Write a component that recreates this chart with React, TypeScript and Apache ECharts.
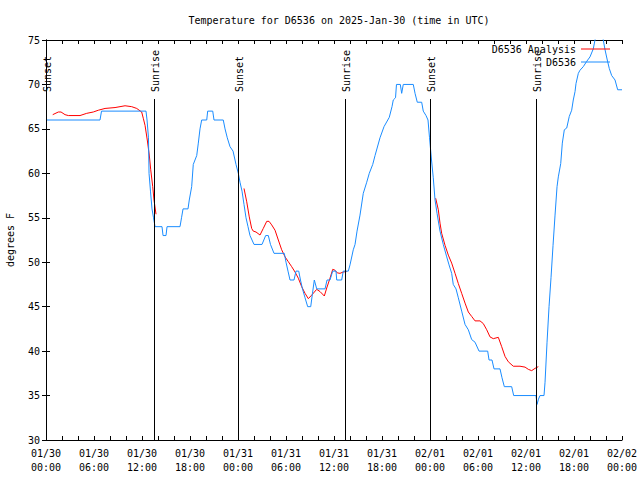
import React, { useEffect, useRef } from "react";
import * as echarts from "echarts";

// Hours since 2025-01-30 00:00 UTC, temperature in degrees F
const obsD6536: [number, number][] = [
  [0, 66], [6.75, 66], [6.94, 67], [12.5, 67], [12.63, 66], [12.81, 64], [12.88, 60],
  [13.06, 58], [13.25, 56], [13.44, 55], [13.63, 54], [14.5, 54], [14.63, 53], [15.0, 53],
  [15.13, 54], [16.75, 54], [16.94, 55], [17.13, 56], [17.75, 56], [17.91, 57], [18.21, 58.5],
  [18.41, 61], [18.84, 62], [19.04, 63.4], [19.25, 65], [19.46, 66], [20.09, 66], [20.21, 67],
  [20.84, 67], [21.0, 66], [22.16, 66], [22.38, 65], [22.66, 64], [23.0, 63], [23.38, 62.5],
  [23.75, 61], [24.04, 60], [24.25, 59], [24.5, 58], [24.75, 56.5], [25.0, 55], [25.25, 54],
  [25.5, 53], [26.0, 52], [27.0, 52], [27.46, 53], [27.79, 53], [28.06, 52], [28.5, 51],
  [29.79, 51], [30.0, 50], [30.25, 49], [30.5, 48], [31.0, 48], [31.25, 49], [31.59, 49],
  [31.81, 48], [32.06, 47], [32.38, 46], [32.71, 45], [33.09, 45], [33.31, 46.5], [33.54, 48],
  [33.84, 47], [34.88, 47], [35.13, 48], [35.5, 48], [35.84, 49], [36.25, 49], [36.34, 48],
  [36.96, 48], [37.16, 49], [37.79, 49], [38.0, 49.7], [38.41, 51.4], [38.63, 52], [38.88, 53.5],
  [39.25, 55.3], [39.66, 57.75], [40.09, 59], [40.41, 60], [40.84, 61], [41.13, 62], [41.75, 64],
  [42.25, 65.25], [42.91, 66.3], [43.25, 67.5], [43.41, 68.25], [43.69, 68.5], [43.81, 70],
  [44.29, 70], [44.46, 69], [44.66, 70], [45.91, 70], [46.13, 69], [46.41, 68], [46.96, 68],
  [47.16, 67], [47.5, 66.5], [47.75, 66], [47.94, 64], [48.19, 61.5], [48.41, 59.5], [48.63, 57],
  [48.88, 55.5], [49.25, 53.5], [49.66, 52], [50.09, 50.6], [50.38, 49.7], [50.71, 48.75],
  [50.91, 47.5], [51.25, 47], [51.54, 46], [51.96, 44.5], [52.38, 43], [52.79, 42.4],
  [53.21, 41.3], [53.63, 41], [54.13, 40], [55.21, 40], [55.38, 39], [55.75, 39], [56.0, 38],
  [56.75, 38], [57.0, 37], [57.29, 36], [58.21, 36], [58.46, 35], [61.25, 35], [61.38, 34],
  [61.56, 34.6], [61.75, 35], [62.25, 35], [62.38, 36.5], [62.63, 41], [62.88, 45], [63.13, 48.3],
  [63.38, 51.9], [63.63, 55.3], [63.88, 58.5], [64.04, 59.6], [64.34, 61.1], [64.54, 63.4],
  [64.79, 64.9], [65.09, 65.1], [65.41, 66.4], [65.71, 67.1], [65.91, 68.25], [66.13, 69.2],
  [66.25, 70.1], [66.54, 71.25], [66.75, 71.6], [67.16, 72], [67.59, 72.6], [68.0, 73.1],
  [68.41, 74], [68.84, 76], [69.46, 76], [69.88, 73.9], [70.16, 72.75], [70.41, 71.8],
  [70.71, 71], [71.13, 70.5], [71.46, 69.4], [72, 69.4],
];

const analysisNight1: [number, number][] = [
  [0.84, 66.6], [1.54, 66.9], [1.88, 66.9], [2.38, 66.6], [2.79, 66.5], [4.25, 66.5],
  [5.09, 66.75], [5.91, 66.9], [6.54, 67.1], [7.38, 67.3], [8.63, 67.4], [9.88, 67.6],
  [10.71, 67.5], [11.34, 67.3], [11.96, 66.9], [12.16, 66.2], [12.38, 65.4], [12.66, 63.75],
  [12.91, 62.06], [13.09, 60.4], [13.34, 58.5], [13.5, 57.0], [13.75, 55.4],
];
const analysisNight2: [number, number][] = [
  [24.75, 58.3], [25.09, 56.8], [25.41, 55.1], [25.71, 53.8], [25.91, 53.5], [26.25, 53.4],
  [26.75, 53.06], [27.16, 53.8], [27.59, 54.6], [27.88, 54.6], [28.21, 54.2], [28.63, 53.6],
  [29.04, 52.5], [29.46, 51.4], [29.88, 50.6], [30.29, 50.06], [30.71, 49.5], [31.13, 48.9],
  [31.54, 48.2], [31.96, 47.25], [32.38, 46.5], [32.79, 45.9], [33.21, 46.3], [33.84, 46.95],
  [34.25, 46.7], [34.79, 46.2], [35.09, 47.1], [35.5, 48.2], [35.84, 49.2], [36.13, 49.1],
  [36.41, 48.8], [36.75, 48.75], [37.16, 48.9], [37.59, 48.95],
];
const analysisNight3: [number, number][] = [
  [48.71, 57.2], [49.04, 55.9], [49.25, 54.4], [49.46, 53.25], [49.88, 51.9], [50.29, 50.8],
  [50.71, 49.9], [51.13, 48.75], [51.54, 47.6], [51.96, 46.5], [52.38, 45.4], [52.79, 44.4],
  [53.21, 43.9], [53.63, 43.4], [54.25, 43.4], [54.66, 43.1], [55.09, 42.4], [55.5, 41.6],
  [55.91, 41.4], [56.54, 41.55], [56.96, 40.5], [57.38, 39.4], [57.79, 38.8], [58.41, 38.3],
  [59.25, 38.3], [59.88, 38.2], [60.29, 37.95], [60.71, 37.8], [61.13, 38.06], [61.54, 38.25],
];

const sunHours = [0, 13.47, 24.04, 37.42, 48.0, 61.29];
const sunLabels = ["Sunset", "Sunrise", "Sunset", "Sunrise", "Sunset", "Sunrise"];

const xTickLabels = [
  "01/30\n00:00", "01/30\n06:00", "01/30\n12:00", "01/30\n18:00",
  "01/31\n00:00", "01/31\n06:00", "01/31\n12:00", "01/31\n18:00",
  "02/01\n00:00", "02/01\n06:00", "02/01\n12:00", "02/01\n18:00",
  "02/02\n00:00",
];

const FONT = '"DejaVu Sans Mono", monospace';
const RED = "#ff0000";
const BLUE = "#1a8cff";

export default function App() {
  const ref = useRef<HTMLDivElement>(null);
  useEffect(() => {
    if (!ref.current) return;
    const chart = echarts.init(ref.current, null, { renderer: "svg" });
    const redSeries = [analysisNight1, analysisNight2, analysisNight3].map((seg) => ({
      type: "line",
      name: "D6536 Analysis",
      data: seg,
      showSymbol: false,
      symbol: "none",
      lineStyle: { color: RED, width: 1 },
      itemStyle: { color: RED },
      z: 2,
    }));
    const legendCommon = {
      right: 30,
      padding: 0,
      align: "right",
      icon: "rect",
      itemWidth: 29,
      itemHeight: 1,
      textStyle: { fontFamily: FONT, fontSize: 10, color: "#000" },
      selectedMode: false,
    };
    chart.setOption({
      animation: false,
      backgroundColor: "#ffffff",
      title: {
        text: "Temperature for D6536 on 2025-Jan-30 (time in UTC)",
        left: 334,
        top: 10,
        textAlign: "center",
        textStyle: { fontFamily: FONT, fontSize: 10, fontWeight: "normal", color: "#000" },
      },
      legend: [
        { ...legendCommon, data: [{ name: "D6536 Analysis", itemStyle: { color: RED } }], top: 44 },
        { ...legendCommon, data: [{ name: "D6536", itemStyle: { color: BLUE } }], top: 57 },
      ],
      grid: {
        left: 46,
        right: 18,
        top: 40,
        bottom: 40,
        containLabel: false,
        outerBoundsMode: "none",
      },
      xAxis: [
        {
          type: "value",
          min: 0,
          max: 72,
          interval: 6,
          axisLine: { show: true, lineStyle: { color: "#000", width: 1 } },
          axisTick: { show: true, inside: true, length: 4, lineStyle: { color: "#000" } },
          minorTick: { show: true, splitNumber: 3, length: 4, lineStyle: { color: "#000" } },
          splitLine: { show: false },
          axisLabel: {
            margin: 6,
            fontFamily: FONT,
            fontSize: 10,
            color: "#000",
            lineHeight: 14,
            formatter: (v: number) => xTickLabels[Math.round(v / 6)] ?? "",
          },
        },
        {
          type: "value",
          position: "top",
          min: 0,
          max: 72,
          interval: 6,
          axisLine: { show: true, lineStyle: { color: "#000", width: 1 } },
          axisTick: { show: true, inside: true, length: 4, lineStyle: { color: "#000" } },
          minorTick: { show: true, splitNumber: 3, length: 4, lineStyle: { color: "#000" } },
          splitLine: { show: false },
          axisLabel: { show: false },
        },
      ],
      yAxis: [
        {
          type: "value",
          min: 30,
          max: 75,
          interval: 5,
          name: "degrees F",
          nameLocation: "middle",
          nameGap: 31,
          nameTextStyle: { fontFamily: FONT, fontSize: 10, color: "#000" },
          axisLine: { show: true, lineStyle: { color: "#000", width: 1 } },
          axisTick: { show: true, inside: true, length: 4, lineStyle: { color: "#000" } },
          splitLine: { show: false },
          axisLabel: { margin: 6, fontFamily: FONT, fontSize: 10, color: "#000" },
        },
        {
          type: "value",
          position: "right",
          min: 30,
          max: 75,
          interval: 5,
          axisLine: { show: true, lineStyle: { color: "#000", width: 1 } },
          axisTick: { show: true, inside: true, length: 4, lineStyle: { color: "#000" } },
          splitLine: { show: false },
          axisLabel: { show: false },
        },
      ],
      series: [
        ...redSeries,
        {
          type: "line",
          name: "D6536",
          data: obsD6536,
          showSymbol: false,
          symbol: "none",
          lineStyle: { color: BLUE, width: 1 },
          itemStyle: { color: BLUE },
          z: 3,
        },
        {
          type: "custom",
          name: "sun",
          silent: true,
          z: 4,
          data: sunHours.map((h) => [h, 30]),
          encode: { x: 0, y: 1 },
          renderItem: (params: any, api: any) => {
            const h = api.value(0);
            const pt = api.coord([h, 30]);
            const cs = params.coordSys;
            const x = Math.round(pt[0]) + 0.5;
            return {
              type: "group",
              children: [
                {
                  type: "line",
                  shape: { x1: x, y1: cs.y + 59, x2: x, y2: cs.y + cs.height },
                  style: { stroke: "#000", lineWidth: 1 },
                },
                {
                  type: "text",
                  x: x + 1,
                  y: cs.y + 52,
                  rotation: Math.PI / 2,
                  style: {
                    text: sunLabels[params.dataIndex],
                    fill: "#000",
                    font: `10px ${FONT}`,
                    align: "left",
                    verticalAlign: "middle",
                  },
                },
              ],
            };
          },
        },
      ],
    });
    return () => chart.dispose();
  }, []);
  return (
    <div
      ref={ref}
      style={{ position: "fixed", left: 0, top: 0, width: 640, height: 480, background: "#fff" }}
    />
  );
}
